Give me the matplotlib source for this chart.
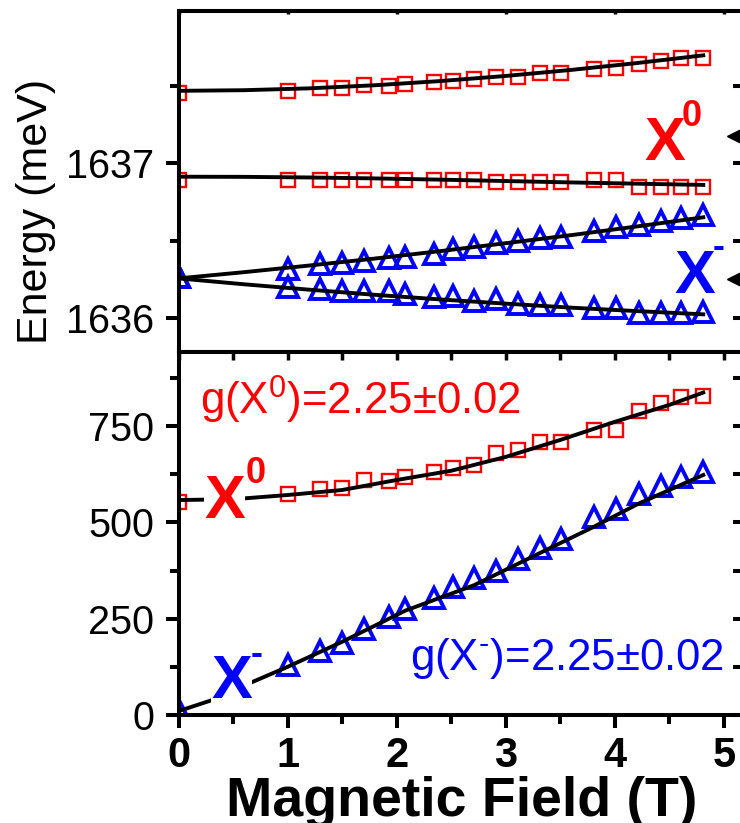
import numpy as np
import matplotlib.pyplot as plt
from matplotlib.ticker import MultipleLocator, NullFormatter

plt.rcParams['font.family'] = ['Liberation Sans', 'DejaVu Sans']
plt.rcParams['mathtext.fontset'] = 'custom'
plt.rcParams['mathtext.rm'] = 'Liberation Sans'
plt.rcParams['mathtext.it'] = 'Liberation Sans'
plt.rcParams['mathtext.bf'] = 'Liberation Sans:bold'

# magnetic field points (T)
field = [0, 1.0, 1.3, 1.5, 1.7, 1.93, 2.08, 2.34, 2.52, 2.71,
         2.91, 3.11, 3.31, 3.51, 3.81, 4.01, 4.22, 4.42, 4.61, 4.81]

# top panel: energies (meV)
x0_upper = [1637.454, 1637.468, 1637.484, 1637.484, 1637.503, 1637.499, 1637.512, 1637.525, 1637.533, 1637.544,
            1637.559, 1637.559, 1637.585, 1637.585, 1637.610, 1637.617, 1637.641, 1637.658, 1637.677, 1637.677]
x0_lower = [1636.894, 1636.890, 1636.890, 1636.890, 1636.890, 1636.890, 1636.890, 1636.890, 1636.890, 1636.890,
            1636.877, 1636.877, 1636.877, 1636.877, 1636.890, 1636.890, 1636.849, 1636.849, 1636.849, 1636.849]
xm_upper = [1636.268, 1636.316, 1636.348, 1636.359, 1636.370, 1636.389, 1636.397, 1636.415, 1636.445, 1636.462,
            1636.488, 1636.501, 1636.516, 1636.526, 1636.565, 1636.587, 1636.604, 1636.628, 1636.647, 1636.665]
xm_lower = [1636.268, 1636.204, 1636.187, 1636.178, 1636.178, 1636.178, 1636.157, 1636.139, 1636.144, 1636.114,
            1636.123, 1636.092, 1636.088, 1636.084, 1636.065, 1636.065, 1636.036, 1636.036, 1636.036, 1636.041]

# fit curves, top panel
fit_field = [0, 0.6, 1.2, 1.8, 2.4, 3.0, 3.6, 4.2, 4.81]
fit_x0_up = [1637.468, 1637.472, 1637.484, 1637.504, 1637.531, 1637.564, 1637.603, 1637.647, 1637.697]
fit_x0_lo = [1636.914, 1636.913, 1636.909, 1636.903, 1636.895, 1636.886, 1636.877, 1636.869, 1636.861]
fit_xm_up = [1636.258, 1636.298, 1636.341, 1636.386, 1636.434, 1636.485, 1636.537, 1636.593, 1636.652]
fit_xm_lo = [1636.258, 1636.220, 1636.185, 1636.152, 1636.122, 1636.095, 1636.069, 1636.047, 1636.026]

# bottom panel: splittings
x0_split = [554, 574, 587, 588, 610, 607, 619, 632, 640, 649, 679, 688, 709, 709, 740, 740, 790, 809, 826, 828]
xm_split = [12, 130, 167, 186, 224, 254, 276, 304, 331, 356, 375, 404, 433, 456, 513, 534, 574, 594, 617, 632]

fit_x0_field = [0, 0.5, 1.0, 1.5, 2.0, 2.5, 3.0, 3.5, 4.0, 4.5, 4.81]
fit_x0_split = [558, 560, 571, 584, 610, 634, 670, 714, 761, 805, 837]
fit_xm_field = [0, 0.3, 0.68, 1.0, 1.5, 2.08, 2.71, 3.31, 3.81, 4.22, 4.81]
fit_xm_split = [10, 38, 86, 125, 190, 271, 337, 420, 489, 549, 623]

arrow_y = [1637.176, 1636.254]

RED = '#ff0000'
BLUE = '#0000ff'
W, H = 740, 823

def fx(px):
    return px / W

def fy(py):
    return 1 - py / H

fig = plt.figure(figsize=(7.4, 8.23), dpi=100)
xl, xr = 178.5, 745
ax_top = fig.add_axes([fx(xl), fy(351.7), fx(xr - xl), (351.7 - 11) / H])
ax_bot = fig.add_axes([fx(xl), fy(715), fx(xr - xl), (715 - 351.7) / H])

sq = dict(ls='none', marker='s', mfc='none', mec=RED, ms=10.5, mew=1.7, zorder=2)
tri = dict(ls='none', marker='^', mfc='none', mec=BLUE, ms=14.5, mew=2.8, zorder=2)
fit = dict(color='black', lw=2.8, zorder=3)

# top panel
ax_top.plot(field, x0_upper, **sq)
ax_top.plot(field, x0_lower, **sq)
ax_top.plot(field, xm_upper, **tri)
ax_top.plot(field, xm_lower, **tri)
for yy in (fit_x0_up, fit_x0_lo, fit_xm_up, fit_xm_lo):
    ax_top.plot(fit_field, yy, **fit)
ax_top.plot([5.09] * len(arrow_y), arrow_y, ls='none', marker='<', color='black', ms=9.5, clip_on=False)

# bottom panel
ax_bot.plot(field, x0_split, **sq)
ax_bot.plot(field, xm_split, **tri)
ax_bot.plot(fit_x0_field, fit_x0_split, **fit)
ax_bot.plot(fit_xm_field, fit_xm_split, **fit)

xmax = (xr - xl) / 109.1
for ax in (ax_top, ax_bot):
    ax.set_xlim(0, xmax)
    for s in ax.spines.values():
        s.set_linewidth(2.9)
    ax.tick_params(axis='y', which='major', direction='out', length=9.4, width=2.9,
                   labelsize=28.5, pad=8, right=False)
    ax.tick_params(axis='y', which='minor', direction='out', length=6.5, width=2.9, right=False)
    ax.xaxis.set_major_locator(MultipleLocator(1))
    ax.xaxis.set_minor_locator(MultipleLocator(0.5))

ax_top.set_ylim(1635.785, 1637.983)
ax_top.yaxis.set_major_locator(MultipleLocator(1))
ax_top.yaxis.set_minor_locator(MultipleLocator(0.5))
ax_top.tick_params(axis='x', which='both', bottom=False, top=False, labelbottom=False)

ax_bot.set_ylim(0, 943)
ax_bot.yaxis.set_major_locator(MultipleLocator(250))
ax_bot.yaxis.set_minor_locator(MultipleLocator(125))
ax_bot.tick_params(axis='x', which='major', direction='out', length=9.4, width=2.9,
                   labelsize=30, pad=6, top=False)
ax_bot.tick_params(axis='x', which='minor', direction='out', length=6.5, width=2.9, top=False)
for lbl in ax_bot.get_xticklabels():
    lbl.set_fontweight('bold')

# inward ticks on top and right sides
for ax, tl, ymaj, ymin in ((ax_top, 2.0, 1, 0.5), (ax_bot, 5.5, 250, 125)):
    sx = ax.secondary_xaxis('top')
    sx.xaxis.set_major_locator(MultipleLocator(1 if ax is ax_top else 0.5))
    sx.xaxis.set_major_formatter(NullFormatter())
    sx.tick_params(direction='in', length=tl, width=2.5)
    sx.spines['top'].set_linewidth(2.9)
    sy = ax.secondary_yaxis('right')
    sy.yaxis.set_major_locator(MultipleLocator(ymin))
    sy.yaxis.set_major_formatter(NullFormatter())
    sy.tick_params(direction='in', length=8.6, width=2.9)

# labels
fig.text(fx(36), fy(211), 'Energy (meV)', rotation=90, fontsize=31, ha='center', va='center')
fig.text(fx(462), fy(816), 'Magnetic Field (T)', fontsize=40, fontweight='bold', ha='center', va='baseline')

big = dict(fontsize=44, fontweight='bold', ha='left', va='baseline')
sup = dict(fontsize=26, fontweight='bold', ha='left', va='baseline')
white = dict(facecolor='white', edgecolor='none', pad=0)

fig.text(fx(644), fy(160), 'X', color=RED, **big)
fig.text(fx(682), fy(126), '0', color=RED, **sup)
fig.text(fx(674), fy(293), 'X', color=BLUE, **big)
fig.text(fx(713), fy(257), '-', color=BLUE, **sup)

fig.text(fx(204), fy(518), 'X', color=RED, bbox=white, **big)
fig.text(fx(246), fy(483), '0', color=RED, **sup)
fig.text(fx(211), fy(698), 'X', color=BLUE, bbox=white, **big)
fig.text(fx(251), fy(664), '-', color=BLUE, **sup)

fig.text(fx(200), fy(415), r'g(X$^0$)=2.25±0.02', color=RED, fontsize=31.5, ha='left', va='baseline')
fig.text(fx(410), fy(670), r'g(X$^{\text{-}}$)=2.25±0.02', color=BLUE, fontsize=31.5, ha='left', va='baseline')

fig.savefig('out.png', dpi=100)
